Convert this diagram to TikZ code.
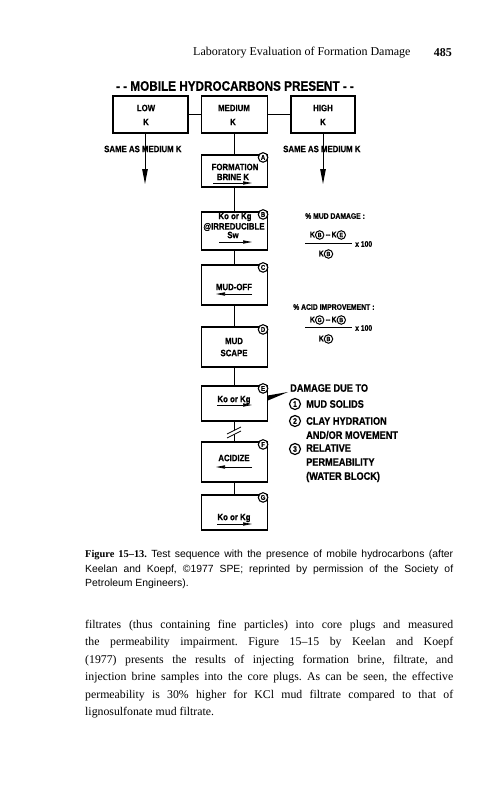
\documentclass[tikz,border=0pt]{standalone}
\usepackage{fontspec}
\setmainfont{Liberation Serif}
\newfontfamily\diagf[FakeStretch=0.85,FakeBold=0.6]{Liberation Sans Bold}
\newfontfamily\capf{Liberation Sans}
\usetikzlibrary{arrows.meta,calc}
\newcommand\cl[1]{\raisebox{-2.5pt}{\tikz\node[draw,circle,line width=1pt,inner sep=0pt,minimum size=8.5pt,font=\diagf\fontsize{6}{6}\selectfont]{#1};}}
\begin{document}
\begin{tikzpicture}[x=1pt,y=-1pt,
  box/.style={draw,line width=1.1pt,minimum width=66pt,inner sep=0pt},
  lbl/.style={inner sep=0pt,font=\diagf\fontsize{9.2}{10}\selectfont},
  fml/.style={inner sep=0pt,font=\diagf\fontsize{8}{9}\selectfont},
  lbr/.style={inner sep=0pt,anchor=west,font=\diagf\fontsize{10.8}{12}\selectfont},
  circ/.style={draw,circle,line width=1.1pt,inner sep=0pt,minimum size=9.5pt,fill=white,font=\diagf\fontsize{7}{7}\selectfont},
  lcirc/.style={draw,circle,line width=1.2pt,inner sep=0pt,minimum size=11pt,fill=white,font=\diagf\fontsize{8}{8}\selectfont},
  conn/.style={line width=0.9pt},
  bigarrow/.style={line width=1pt,-{Triangle[length=15pt,width=5.5pt]}},
  smallarrow/.style={line width=0.7pt,-{Triangle[length=9pt,width=3.2pt]}}]
\useasboundingbox (0,0) rectangle (497,800);
\fill[white] (0,0) rectangle (497,800);

% header
\node[anchor=west,inner sep=0pt,font=\fontsize{12}{14}\selectfont] (hdr) at (193,53) {Laboratory Evaluation of Formation Damage};
\node[anchor=east,inner sep=0pt,font=\bfseries\fontsize{12}{14}\selectfont] (pg) at (452,53) {485};

% title
\node[inner sep=0pt,font=\diagf\fontsize{13.8}{15}\selectfont] (title) at (235,86) {- - MOBILE HYDROCARBONS PRESENT - -};

% top row
\node[box,minimum width=75pt,minimum height=37pt] (low) at (150.5,114.5) {};
\node[box,minimum width=66pt,minimum height=37pt] (med) at (234.5,114.5) {};
\node[box,minimum width=64pt,minimum height=37pt] (high) at (323,114.5) {};
\node[lbl] (lowt1) at (146,108) {LOW};
\node[lbl] (lowt2) at (146,122) {K};
\node[lbl] (medt1) at (234,108) {MEDIUM};
\node[lbl] (medt2) at (233,122) {K};
\node[lbl] (hight1) at (323,108) {HIGH};
\node[lbl] (hight2) at (323,122) {K};
\draw[conn] (low) -- (med);
\draw[conn] (med) -- (high);

% same as medium
\coordinate (lowend) at (145,184);
\coordinate (highend) at (323,184);
\draw[bigarrow] (lowend |- low.south) -- (lowend);
\draw[bigarrow] (highend |- high.south) -- (highend);
\node[lbl,anchor=west] (samel) at (104,149) {SAME AS MEDIUM K};
\node[lbl,anchor=west] (samer) at (283,149) {SAME AS MEDIUM K};

% column
\node[box,minimum height=32pt] (A) at (234.5,171) {};
\node[box,minimum height=38pt] (B) at (234.5,231) {};
\node[box,minimum height=40pt] (C) at (234.5,285) {};
\node[box,minimum height=40pt] (D) at (234.5,347) {};
\node[box,minimum height=35pt] (E) at (234.5,403.5) {};
\node[box,minimum height=40pt] (F) at (234.5,462) {};
\node[box,minimum height=35pt] (G) at (234.5,512.5) {};

\draw[conn] (med) -- (A);
\draw[conn] (A) -- (B);
\draw[conn] (B) -- (C);
\draw[conn] (C) -- (D);
\draw[conn] (D) -- (E);
\draw[conn] (E) -- (F);
% break mark
\fill[white] (227,434) -- (241,427) -- (241,431) -- (227,438) -- cycle;
\draw[line width=0.8pt] (227,434) -- (241,427);
\draw[line width=0.8pt] (227,438) -- (241,431);
\draw[conn] (F) -- (G);

% box texts
\node[lbl] (At1) at (235,167) {FORMATION};
\node[lbl] (At2) at (233,177) {BRINE K};
\draw[smallarrow] (213,183) -- (252,183);

\node[lbl] (Bt1) at (235,217) {Ko or Kg};
\node[lbl] (Bt2) at (234,227) {@IRREDUCIBLE};
\node[lbl] (Bt3) at (233,235) {Sw};
\draw[smallarrow] (219,242) -- (252,242);

\node[lbl] (Ct1) at (234,287) {MUD-OFF};
\draw[smallarrow] (252,294) -- (216,294);

\node[lbl] (Dt1) at (234,341) {MUD};
\node[lbl] (Dt2) at (234,353) {SCAPE};

\node[lbl] (Et1) at (234,400) {Ko or Kg};
\draw[smallarrow] (217,405) -- (252,405);

\node[lbl] (Ft1) at (234,458) {ACIDIZE};
\draw[smallarrow] (252,467) -- (216,467);

\node[lbl] (Gt1) at (234,518) {Ko or Kg};
\draw[smallarrow] (217,524) -- (252,524);

% corner circles
\node[circ] (cA) at ($(A.north east)+(-5,3)$) {A};
\node[circ] (cB) at ($(B.north east)+(-5,3)$) {B};
\node[circ] (cC) at ($(C.north east)+(-5,3)$) {C};
\node[circ] (cD) at ($(D.north east)+(-5,3)$) {D};
\node[circ] (cE) at ($(E.north east)+(-5,3)$) {E};
\node[circ] (cF) at ($(F.north east)+(-5,3)$) {F};
\node[circ] (cG) at ($(G.north east)+(-5,3)$) {G};

% formulas
\node[fml,anchor=west] (md) at (305,216) {\% MUD DAMAGE :};
\node[fml] (mdn) at (328,235) {K\cl{B}\,--\,K\cl{E}};
\coordinate (mdb1) at (305,243);
\coordinate (mdb2) at (352,243);
\draw[line width=0.9pt] (mdb1) -- (mdb2);
\node[fml,anchor=west] (mdx) at (355,244) {x 100};
\node[fml] (mdd) at (326,254) {K\cl{B}};

\node[fml,anchor=west] (ai) at (293,307) {\% ACID IMPROVEMENT :};
\node[fml] (ain) at (328,320) {K\cl{G}\,--\,K\cl{B}};
\coordinate (aib1) at (305,327);
\coordinate (aib2) at (352,327);
\draw[line width=0.9pt] (aib1) -- (aib2);
\node[fml,anchor=west] (aix) at (355,328) {x 100};
\node[fml] (aid) at (326,339) {K\cl{B}};

% damage list
\node[lbr] (dmg) at (290,388) {DAMAGE DUE TO};
\coordinate (wtip) at (288,392);
\fill (wtip) -- ($(E.north east)+(0,10)$) -- ($(E.north east)+(0,15)$) -- cycle;
\node[lcirc] (n1) at (295,404) {1};
\node[lbr] (d1) at (306,404) {MUD SOLIDS};
\node[lcirc] (n2) at (295,421) {2};
\node[lbr] (d2) at (306,421) {CLAY HYDRATION};
\node[lbr] (d3) at (306,435) {AND/OR MOVEMENT};
\node[lcirc] (n3) at (295,449) {3};
\node[lbr] (d4) at (306,448) {RELATIVE};
\node[lbr] (d5) at (306,462) {PERMEABILITY};
\node[lbr] (d6) at (306,477) {(WATER BLOCK)};

% caption
\node[anchor=north west,inner sep=0pt,text width=368pt,align=justify,font=\capf\fontsize{10.4}{14.5}\selectfont] (cap) at (85,550)
{\noindent\frenchspacing{\rmfamily\bfseries Figure 15--13.} Test sequence with the presence of mobile hydrocarbons (after\linebreak
Keelan and Koepf, \textcopyright1977 SPE; reprinted by permission of the Society of\linebreak
Petroleum Engineers).};

% body text
\node[anchor=north west,inner sep=0pt,text width=368pt,align=justify,font=\fontsize{11.8}{17.4}\selectfont] (body) at (85,620)
{\noindent\frenchspacing filtrates (thus containing fine particles) into core plugs and measured\linebreak
the permeability impairment. Figure 15--15 by Keelan and Koepf\linebreak
(1977) presents the results of injecting formation brine, filtrate, and\linebreak
injection brine samples into the core plugs. As can be seen, the effective\linebreak
permeability is 30\% higher for KCl mud filtrate compared to that of\linebreak
lignosulfonate mud filtrate.};
\end{tikzpicture}
\end{document}
